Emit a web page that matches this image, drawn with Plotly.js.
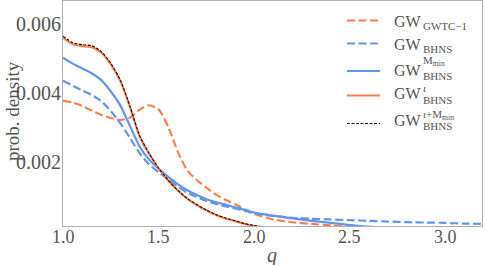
<!DOCTYPE html>
<html>
<head>
<meta charset="utf-8">
<script src="https://cdn.plot.ly/plotly-3.0.1.min.js"></script>
<style>html,body{margin:0;padding:0;background:#fff;}#chart{width:485px;height:265px;}</style>
</head>
<body>
<div id="chart"></div>
<script>
// ---- data ----
const q = [1.0,1.05,1.1,1.15,1.2,1.25,1.3,1.35,1.4,1.45,1.5,1.55,1.6,1.65,1.7,1.75,1.8,1.85,1.9,1.95,2.0,2.1,2.2,2.3,2.4,2.5,2.6,2.7,2.8,2.9,3.0,3.1,3.2];
const gwtc1 = [0.00378,0.00373,0.00363,0.00350,0.00337,0.00328,0.00322,0.00329,0.00352,0.00365,0.00353,0.00302,0.00230,0.00175,0.00147,0.00125,0.00105,0.00090,0.00077,0.00063,0.00049,0.00033,0.00025,0.00020,0.00016,0.00012,0.00010,0.00008,0.00006,0.00005,0.00004,0.00003,0.00002];
const bhns = [0.00436,0.00422,0.00408,0.00395,0.00377,0.00348,0.00312,0.00270,0.00226,0.00193,0.00170,0.00150,0.00128,0.00111,0.00098,0.00087,0.00078,0.00071,0.00065,0.00058,0.00051,0.00043,0.00038,0.00035,0.00033,0.00031,0.00029,0.00027,0.00025,0.00024,0.00023,0.00021,0.00020];
const bhnsMmin = [0.00503,0.00486,0.00472,0.00458,0.00438,0.00405,0.00364,0.00305,0.00245,0.00207,0.00180,0.00157,0.00136,0.00118,0.00104,0.00092,0.00083,0.00076,0.00068,0.00061,0.00053,0.00044,0.00036,0.00029,0.00023,0.00017,0.00012,0.00009,0.00006,0.00004,0.00003,0.00002,0.00001];
const bhnsIota = [0.00561,0.00543,0.00537,0.00534,0.00518,0.00484,0.00435,0.00360,0.00275,0.00224,0.00181,0.00146,0.00117,0.00093,0.00075,0.00059,0.00046,0.00036,0.00028,0.00020,0.00014,0.00007,0.00003,0.00002,0.00001,0,0,0,0,0,0,0,0];
const bhnsIotaMmin = [0.00566,0.00547,0.00541,0.00538,0.00521,0.00487,0.00438,0.00362,0.00277,0.00225,0.00182,0.00147,0.00118,0.00094,0.00076,0.00060,0.00047,0.00037,0.00029,0.00021,0.00015,0.00008,0.00004,0.00002,0.00001,0,0,0,0,0,0,0,0];
const xTicks = [1.0,1.5,2.0,2.5,3.0];
const xTickText = ['1.0','1.5','2.0','2.5','3.0'];
const yTicks = [0.002,0.004,0.006];
const yTickText = ['0.002','0.004','0.006'];
const legendMain = ['GW','GW','GW','GW','GW'];
const legendSub = ['GWTC\u22121','BHNS','BHNS','BHNS','BHNS'];
const legendSup = ['','','M<sub>min</sub>','<i>\u03b9</i>','<i>\u03b9</i>+M<sub>min</sub>'];

// ---- styling ----
const CORAL = '#ff7f50', BLUE = '#6495ed';
const FONT = 'Liberation Serif, DejaVu Serif, serif';
const TXT = '#555';
const L = 63, R = 3, T = 1, B = 39, W = 485, H = 265;
const pw = W - L - R, ph = H - T - B;
const px = x => (x - L) / pw;
const py = y => (H - B - y) / ph;

const styles = [
  {color: CORAL, width: 2.2, dash: '8px,3.5px'},
  {color: BLUE, width: 2.2, dash: '8px,3.5px'},
  {color: BLUE, width: 2.2, dash: 'solid'},
  {color: CORAL, width: 2.2, dash: 'solid'},
  {color: '#111', width: 1.1, dash: '3px,1.5px'}
];
const series = [gwtc1, bhns, bhnsMmin, bhnsIota, bhnsIotaMmin];
const traces = series.map((s, i) => ({
  x: q, y: s, type: 'scatter', mode: 'lines',
  line: {color: styles[i].color, width: styles[i].width, dash: styles[i].dash, shape: 'spline', smoothing: 0.6},
  showlegend: false, hoverinfo: 'skip'
}));

const shapes = [];
const annotations = [];
// tick labels as annotations anchored to the axis values (placed tight to the axes as in the reference)
xTicks.forEach((v, i) => annotations.push({xref: 'x', yref: 'paper', x: v, y: py(237), xanchor: 'center', yanchor: 'middle',
  text: xTickText[i], showarrow: false, font: {family: FONT, size: 18, color: TXT}}));
yTicks.forEach((v, i) => annotations.push({xref: 'paper', yref: 'y', x: px(62.5), y: v, xanchor: 'right', yanchor: 'middle',
  text: yTickText[i], showarrow: false, font: {family: FONT, size: 20, color: TXT}}));

// manual legend
const rowLine = [20.5, 43.5, 71, 95.5, 123.5];
const rowMain = [21, 44, 70, 93.5, 120.5];
const rowSub = [25.5, 48.5, 76, 99.5, 126.5];
const rowSup = [0, 0, 61, 87.5, 114.5];
for (let i = 0; i < 5; i++) {
  shapes.push({type: 'line', xref: 'paper', yref: 'paper', x0: px(347), x1: px(380), y0: py(rowLine[i]), y1: py(rowLine[i]),
    line: {color: styles[i].color, width: styles[i].width, dash: styles[i].dash}});
  annotations.push({xref: 'paper', yref: 'paper', x: px(392), y: py(rowMain[i]), xanchor: 'left', yanchor: 'middle',
    text: legendMain[i], showarrow: false, font: {family: FONT, size: 16, color: TXT}});
  annotations.push({xref: 'paper', yref: 'paper', x: px(420.5), y: py(rowSub[i]), xanchor: 'left', yanchor: 'middle',
    text: legendSub[i], showarrow: false, font: {family: FONT, size: 11, color: TXT}});
  if (legendSup[i]) {
    annotations.push({xref: 'paper', yref: 'paper', x: px(420.5), y: py(rowSup[i]), xanchor: 'left', yanchor: 'middle',
      text: legendSup[i], showarrow: false, font: {family: FONT, size: 11, color: TXT}});
  }
}
// axis titles as annotations (the y title overlaps the tick labels in the reference)
annotations.push({xref: 'paper', yref: 'paper', x: px(12), y: py(111), xanchor: 'center', yanchor: 'middle',
  text: 'prob. density', textangle: -90, showarrow: false, font: {family: FONT, size: 19, color: TXT}});
annotations.push({xref: 'paper', yref: 'paper', x: px(272), y: py(255), xanchor: 'center', yanchor: 'middle',
  text: '<i>q</i>', showarrow: false, font: {family: FONT, size: 20, color: TXT}});

const layout = {
  width: W, height: H,
  margin: {l: L, r: R, t: T, b: B, pad: 0},
  paper_bgcolor: '#fff', plot_bgcolor: '#fff',
  font: {family: FONT, color: TXT},
  xaxis: {
    range: [1.0, 3.19], tickvals: xTicks, showticklabels: false, ticks: '', showgrid: false, zeroline: false,
    showline: true, linecolor: '#b0b0b0', linewidth: 1, mirror: true
  },
  yaxis: {
    range: [0.00014, 0.00668], tickvals: yTicks, showticklabels: false, ticks: '', showgrid: false, zeroline: false,
    showline: true, linecolor: '#b0b0b0', linewidth: 1, mirror: true
  },
  shapes: shapes,
  annotations: annotations
};
Plotly.newPlot('chart', traces, layout, {staticPlot: true, displayModeBar: false});
</script>
</body>
</html>
